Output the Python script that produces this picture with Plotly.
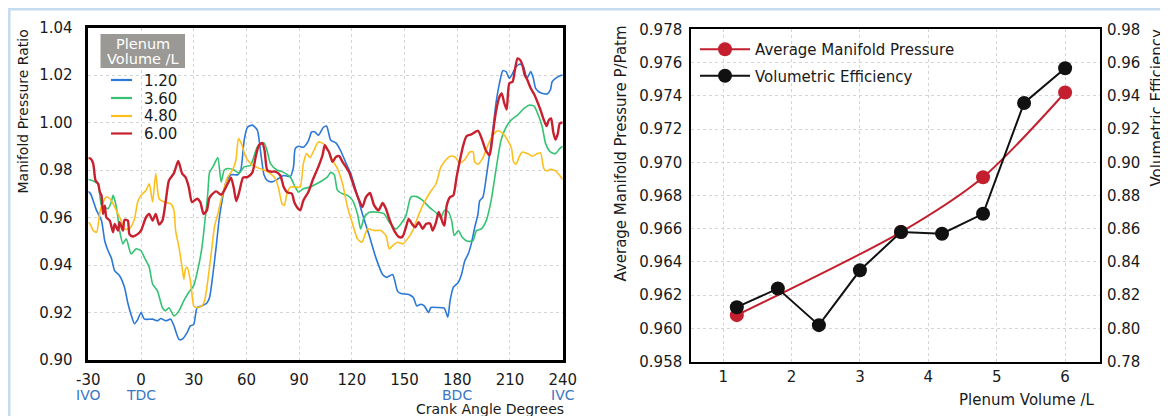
import plotly.graph_objects as go

# The page places the figure 8 px in from the top-left corner of the window,
# so the figure is sized to fill exactly the rest of the 1168x416 window.
OFF = 8
W, H = 1168 - OFF, 416 - OFF

# ---------------- Left chart data: manifold pressure ratio vs crank angle ----------------
series_names = ["1.20", "3.60", "4.80", "6.00"]
series_colors = ["#2b78d6", "#35c273", "#fcbf1e", "#c8202f"]
series_widths = [1.6, 1.6, 1.6, 2.4]

blue_x = [-30, -28.7, -25.3, -22.5, -20.6, -18.75, -16.9, -15, -12.2, -9.4, -7.5, -5.6, -3.75, -1.9, 0, 1.9, 6.6, 9.4, 11.25, 14.1, 16.9, 18.75, 21.6, 23.4, 26.25, 28.1, 30, 31.9, 34.7, 37.5, 39, 40.9, 42.75, 44.6, 46.5, 48.4, 51.2, 55, 56.8, 58.7, 60.6, 63.4, 66.2, 68, 70, 71.8, 74.6, 77.4, 81.2, 85, 86.8, 87.75, 89.6, 92.4, 95.25, 97.1, 99, 100.9, 103.7, 105.6, 108, 110.9, 113.7, 116.6, 119.4, 122.3, 126, 129.9, 133.7, 137.5, 139.8, 143.2, 146, 147.9, 152.7, 155, 156.9, 159.3, 161.2, 163.7, 165, 168.8, 172.6, 174.6, 175.9, 177.75, 180.6, 182.4, 184.3, 186.2, 188, 190, 191.8, 192.75, 194.6, 196.5, 198.4, 200.25, 202, 204, 205.9, 207.75, 209.6, 211.5, 213.4, 215.8, 217.7, 219.6, 221, 221.8, 223.3, 224.6, 227.4, 231.2, 233, 234, 235.9, 238.3, 240]
blue_y = [0.971, 0.970, 0.963, 0.9587, 0.950, 0.946, 0.943, 0.9376, 0.9355, 0.9306, 0.924, 0.919, 0.9153, 0.917, 0.920, 0.9172, 0.9172, 0.9165, 0.9175, 0.9165, 0.9172, 0.9144, 0.9087, 0.9087, 0.9115, 0.9144, 0.915, 0.922, 0.9228, 0.924, 0.9263, 0.936, 0.9475, 0.960, 0.9686, 0.975, 0.978, 0.978, 0.980, 0.9925, 0.998, 0.9989, 0.9968, 0.988, 0.978, 0.9756, 0.975, 0.976, 0.9777, 0.9773, 0.9813, 0.989, 0.990, 0.9896, 0.9923, 0.996, 0.996, 0.9946, 0.9979, 0.9985, 0.9925, 0.9914, 0.988, 0.983, 0.9785, 0.9714, 0.9615, 0.9524, 0.943, 0.936, 0.9348, 0.936, 0.929, 0.928, 0.9275, 0.9263, 0.9228, 0.9235, 0.9228, 0.920, 0.9221, 0.9221, 0.9218, 0.918, 0.925, 0.9306, 0.9327, 0.936, 0.9418, 0.9446, 0.949, 0.956, 0.9615, 0.967, 0.9686, 0.977, 0.9869, 0.9968, 1.008, 1.0165, 1.0218, 1.0214, 1.0186, 1.0207, 1.0235, 1.0246, 1.0235, 1.0186, 1.0204, 1.0214, 1.0186, 1.0144, 1.0125, 1.012, 1.0137, 1.0172, 1.0186, 1.0196, 1.020]

green_x = [-30, -29, -26.25, -24.4, -22.5, -20.6, -18.75, -16.9, -15.9, -14, -12.2, -10.3, -8.4, -5.6, -2.8, 0, 1.9, 4.7, 6.6, 9.4, 12.2, 14, 15.9, 18.75, 21.6, 24.4, 27.2, 30, 32.8, 34.7, 36.6, 38, 39, 40.9, 43.7, 45.6, 47.4, 49.3, 53, 55.9, 58.7, 62.4, 66.2, 70, 71.8, 73.7, 77.4, 81.2, 85, 87.75, 89.6, 92.4, 96.2, 100, 103.3, 106, 108, 110, 111.8, 114.7, 117.5, 120.4, 123.2, 125, 127, 129.9, 134.6, 138.4, 141.3, 145, 147.9, 150.8, 153.6, 156.5, 160.3, 164, 167.9, 170.7, 172.6, 175, 176.8, 178.3, 180.6, 182.8, 185.8, 189, 190.9, 193.7, 196.5, 199.3, 202, 204.9, 207.75, 210.6, 214.3, 218, 220.9, 223.7, 226.5, 228.4, 230.3, 233, 235.9, 238.3, 240]
green_y = [0.976, 0.9759, 0.975, 0.9742, 0.965, 0.9644, 0.9637, 0.9665, 0.9693, 0.9644, 0.9545, 0.9489, 0.951, 0.9446, 0.9468, 0.946, 0.9432, 0.939, 0.932, 0.929, 0.922, 0.9207, 0.922, 0.9186, 0.9207, 0.925, 0.9285, 0.9313, 0.9397, 0.9475, 0.960, 0.970, 0.979, 0.9813, 0.9852, 0.975, 0.980, 0.9806, 0.980, 0.9787, 0.9813, 0.982, 0.9897, 0.9914, 0.988, 0.9827, 0.980, 0.979, 0.977, 0.9728, 0.9707, 0.9721, 0.9728, 0.9742, 0.9756, 0.977, 0.979, 0.978, 0.9714, 0.970, 0.9693, 0.9672, 0.9615, 0.9552, 0.960, 0.9622, 0.9622, 0.9615, 0.958, 0.9552, 0.9573, 0.9608, 0.9686, 0.9689, 0.9672, 0.9644, 0.962, 0.960, 0.963, 0.9623, 0.9587, 0.9524, 0.9545, 0.9517, 0.950, 0.9503, 0.9545, 0.9552, 0.9587, 0.9672, 0.980, 0.9925, 0.998, 1.001, 1.0031, 1.0059, 1.0073, 1.0069, 1.0024, 0.998, 0.9911, 0.9876, 0.9869, 0.989, 0.990]

yellow_x = [-30, -29, -27.2, -25.3, -23.4, -21.6, -19.7, -17.8, -15.9, -13.1, -11.25, -9.4, -6.6, -3.75, -1.9, 0, 2.8, 4.7, 6.6, 8.4, 10.3, 13.1, 16.9, 18.75, 19.7, 21.6, 23.4, 24.4, 25.3, 26.25, 28.1, 29, 30, 31.9, 34.7, 36.2, 38, 39.9, 41.8, 43.7, 46.5, 49.3, 52.1, 54, 55.5, 57.2, 59.6, 62.4, 66.2, 70, 73.7, 76.5, 78.4, 80.25, 81.6, 83, 85, 88.7, 90.6, 92.4, 94.3, 96.2, 98, 100.9, 103.7, 106, 109, 111.8, 114.7, 117.5, 120.4, 123.2, 125.7, 127.6, 128.9, 132.7, 136.5, 139.4, 141.3, 143.2, 146, 148.9, 151.7, 154.6, 157.4, 160.3, 164, 167.9, 170.7, 173.4, 175.9, 178.7, 181.5, 184.3, 187.1, 189, 189.9, 191.8, 194.6, 197.4, 200.25, 203, 205.9, 208.7, 210.9, 212, 213.4, 215.25, 217, 220, 222.75, 225.6, 227.4, 229.3, 231.2, 233, 235.9, 238.3, 240]
yellow_y = [0.958, 0.9573, 0.9545, 0.9538, 0.9623, 0.9665, 0.9686, 0.968, 0.9658, 0.9615, 0.9587, 0.9552, 0.9552, 0.9594, 0.9665, 0.9693, 0.9714, 0.9742, 0.9665, 0.9785, 0.9679, 0.9665, 0.9658, 0.963, 0.9545, 0.9475, 0.939, 0.934, 0.9383, 0.939, 0.9334, 0.9277, 0.9228, 0.922, 0.9228, 0.925, 0.9334, 0.9446, 0.956, 0.9615, 0.970, 0.977, 0.980, 0.9841, 0.9932, 0.991, 0.9855, 0.9827, 0.981, 0.980, 0.9785, 0.9763, 0.972, 0.9658, 0.9651, 0.970, 0.9728, 0.9728, 0.9728, 0.9827, 0.9869, 0.9852, 0.9876, 0.9918, 0.9911, 0.989, 0.9841, 0.9806, 0.9742, 0.9644, 0.9573, 0.951, 0.9496, 0.953, 0.9552, 0.9545, 0.9545, 0.9524, 0.9468, 0.9482, 0.9496, 0.9489, 0.951, 0.9545, 0.960, 0.965, 0.970, 0.9742, 0.9813, 0.9841, 0.9858, 0.9855, 0.983, 0.9844, 0.9876, 0.9876, 0.9834, 0.9824, 0.9852, 0.9904, 0.9946, 0.9965, 0.9954, 0.9925, 0.989, 0.9834, 0.9824, 0.9855, 0.9876, 0.9869, 0.9858, 0.9869, 0.9872, 0.9806, 0.9796, 0.9803, 0.9796, 0.9777, 0.976]

red_x = [-30, -28.7, -27.2, -25.9, -24.4, -23.4, -22.5, -21.6, -20.6, -19.7, -17.8, -15.9, -15, -13.1, -12.2, -10.3, -9.4, -7.5, -6.6, -4.7, -1.9, 0, 2.8, 4.7, 6.6, 8.4, 10.3, 12.2, 14, 15.9, 18.75, 21.2, 23.4, 25.3, 27.2, 29, 31.9, 33.75, 35.6, 37.5, 38.8, 39.9, 42.75, 45.6, 47.4, 49.3, 51.2, 52.7, 54.2, 55.9, 58.1, 60.6, 63.4, 65.25, 67.1, 69, 70.3, 71.8, 73.7, 76.5, 79.3, 81.2, 83, 85.9, 87.2, 88.7, 90.6, 92.4, 95.25, 98, 100.9, 103.3, 104.6, 106, 107, 109, 110.9, 112.8, 114.7, 116.6, 118.5, 121.3, 124.2, 126, 128, 130.3, 132.7, 135.2, 137.5, 139.4, 141.3, 144.1, 147, 148.9, 150.8, 152.3, 154.2, 156.1, 158, 160.3, 162.2, 164.5, 166, 167.9, 169.4, 170.7, 172, 172.7, 174, 175.9, 177.75, 179.6, 181.5, 183.4, 185.25, 188, 191.8, 194.6, 196.2, 198.4, 200.25, 202, 204, 205.3, 206.8, 208.1, 209.6, 211.5, 212.8, 214.3, 215.8, 217.1, 218.4, 219.9, 221.8, 223.7, 225.6, 227.4, 229.3, 230.8, 232.1, 233.4, 234.6, 235.9, 237.2, 238.3, 240]
red_y = [0.985, 0.9848, 0.9827, 0.9756, 0.9742, 0.9707, 0.9693, 0.9615, 0.965, 0.960, 0.9587, 0.9538, 0.9573, 0.9545, 0.958, 0.9545, 0.959, 0.9587, 0.953, 0.952, 0.953, 0.9545, 0.960, 0.9615, 0.9587, 0.9615, 0.957, 0.9587, 0.9665, 0.9756, 0.9787, 0.9838, 0.9785, 0.977, 0.9728, 0.9665, 0.9679, 0.9665, 0.9615, 0.963, 0.968, 0.9693, 0.971, 0.9696, 0.9714, 0.9742, 0.9768, 0.9728, 0.9669, 0.9707, 0.9768, 0.977, 0.979, 0.9855, 0.9904, 0.9914, 0.9883, 0.980, 0.9793, 0.9793, 0.9777, 0.9728, 0.9707, 0.970, 0.9665, 0.9644, 0.963, 0.9672, 0.9707, 0.9763, 0.9813, 0.9862, 0.9904, 0.9887, 0.9876, 0.9834, 0.9855, 0.9858, 0.9834, 0.9813, 0.979, 0.9728, 0.9672, 0.9644, 0.9686, 0.9703, 0.9651, 0.963, 0.9661, 0.9637, 0.9594, 0.9545, 0.9517, 0.952, 0.9559, 0.9594, 0.9573, 0.9559, 0.958, 0.9552, 0.9573, 0.9575, 0.9545, 0.958, 0.9623, 0.960, 0.9573, 0.9566, 0.9651, 0.9686, 0.9693, 0.977, 0.9841, 0.9904, 0.9942, 0.995, 0.9965, 0.9918, 0.9883, 0.9862, 0.9954, 1.0045, 1.0108, 1.0122, 1.008, 1.0055, 1.0165, 1.0172, 1.0221, 1.027, 1.0263, 1.0242, 1.020, 1.0179, 1.0144, 1.012, 1.0087, 1.0052, 1.001, 0.9985, 1.001, 1.0017, 0.996, 0.9928, 0.9952, 0.9996, 1.000]

crank_ticks = [-30, 0, 30, 60, 90, 120, 150, 180, 210, 240]
crank_tick_labels = ["-30", "0", "30", "60", "90", "120", "150", "180", "210", "240"]
event_angles = [-30, 0, 180, 240]
event_labels = ["IVO", "TDC", "BDC", "IVC"]

# ---------------- Right chart data: vs plenum volume ----------------
amp_x = [1.2, 3.6, 4.8, 6.0]
amp_y = [0.9608, 0.9658, 0.9691, 0.9742]
ve_x = [1.2, 1.8, 2.4, 3.0, 3.6, 4.2, 4.8, 5.4, 6.0]
ve_y = [0.8128, 0.824, 0.802, 0.835, 0.858, 0.857, 0.869, 0.9357, 0.9566]

FONT = "DejaVu Sans, Verdana, sans-serif"
TXT = "#1a1a1a"
GRID = "#d4d4d4"
EVENT_BLUE = "#3a76c4"


def fx(p):
    """window pixel x -> paper fraction"""
    return (p - OFF) / W


def fy(p):
    """window pixel y -> paper fraction"""
    return 1 - (p - OFF) / H


fig = go.Figure()

left_series = [(blue_x, blue_y), (green_x, green_y), (yellow_x, yellow_y), (red_x, red_y)]
for (sx, sy), name, col, lw in zip(left_series, series_names, series_colors, series_widths):
    fig.add_trace(go.Scatter(
        x=sx, y=sy, name=name, mode="lines",
        line=dict(color=col, width=lw, shape="spline", smoothing=0.6),
        xaxis="x", yaxis="y", showlegend=False,
    ))

fig.add_trace(go.Scatter(
    x=amp_x, y=amp_y, name="Average Manifold Pressure", mode="lines+markers",
    line=dict(color="#c41f2e", width=2, shape="spline", smoothing=0.8),
    marker=dict(color="#c41f2e", size=14),
    xaxis="x2", yaxis="y2", legend="legend2", legendgroup="a",
))
fig.add_trace(go.Scatter(
    x=ve_x, y=ve_y, name="Volumetric Efficiency", mode="lines+markers",
    line=dict(color="#111111", width=2),
    marker=dict(color="#111111", size=14),
    xaxis="x2", yaxis="y3", legend="legend2", legendgroup="b",
))

axis_common = dict(
    showgrid=True, gridcolor=GRID, griddash="dot", gridwidth=1,
    showline=True, linecolor="#000000", mirror=True, ticks="",
    zeroline=False, automargin=False, tickfont=dict(family=FONT, size=15, color=TXT),
)

fig.update_layout(
    width=W, height=H, autosize=False,
    margin=dict(l=0, r=0, t=0, b=0, pad=0, autoexpand=False),
    paper_bgcolor="white", plot_bgcolor="white",
    font=dict(family=FONT, size=15, color=TXT),
    xaxis=dict(domain=[fx(88.3), fx(562.7)], range=[-30, 240],
               tickvals=crank_ticks, ticktext=crank_tick_labels,
               linewidth=2.5, ticklabelstandoff=4, anchor="y", **axis_common),
    yaxis=dict(domain=[fy(360), fy(27.5)], range=[0.90, 1.04], dtick=0.02, tick0=0.9,
               tickformat=".2f", linewidth=2.5, ticklabelstandoff=10, anchor="x", **axis_common),
    xaxis2=dict(domain=[fx(691), fx(1100)], range=[0.53, 6.51], dtick=1, tick0=1,
                linewidth=1.5, ticklabelstandoff=1, anchor="y2", **axis_common),
    yaxis2=dict(domain=[fy(361.7), fy(29.3)], range=[0.958, 0.978], dtick=0.002, tick0=0.958,
                tickformat=".3f", linewidth=1.5, ticklabelstandoff=4, anchor="x2", **axis_common),
    yaxis3=dict(domain=[fy(361.7), fy(29.3)], range=[0.78, 0.98], dtick=0.02, tick0=0.78,
                tickformat=".2f", overlaying="y2", side="right", anchor="x2",
                showgrid=False, showline=False, zeroline=False, ticks="", automargin=False,
                ticklabelstandoff=6, tickfont=dict(family=FONT, size=15, color=TXT)),
    legend2=dict(x=fx(695), y=fy(33), xanchor="left", yanchor="top",
                 bgcolor="rgba(0,0,0,0)", borderwidth=0, itemwidth=50,
                 font=dict(family=FONT, size=15, color=TXT), tracegroupgap=4),
    showlegend=True,
)

# ---- Left chart legend (title box + entries), built from the series lists ----
fig.add_shape(type="rect", xref="paper", yref="paper",
              x0=fx(100.5), x1=fx(185), y0=fy(68), y1=fy(34),
              fillcolor="#9a9995", line=dict(width=0), layer="above")
fig.add_annotation(text="Plenum", xref="paper", yref="paper", x=fx(143), y=fy(43.5),
                   xanchor="center", yanchor="middle", showarrow=False,
                   font=dict(family=FONT, size=14.5, color="white"))
fig.add_annotation(text="Volume /L", xref="paper", yref="paper", x=fx(143), y=fy(58.5),
                   xanchor="center", yanchor="middle", showarrow=False,
                   font=dict(family=FONT, size=14.5, color="white"))
legend_rows = [80, 98, 116, 133.5]
for row, name, col, lw in zip(legend_rows, series_names, series_colors, series_widths):
    fig.add_shape(type="line", xref="paper", yref="paper",
                  x0=fx(111), x1=fx(132), y0=fy(row), y1=fy(row),
                  line=dict(color=col, width=2.2), layer="above")
    fig.add_annotation(text=name, xref="paper", yref="paper", x=fx(142), y=fy(row + 0.5),
                       xanchor="left", yanchor="middle", showarrow=False,
                       font=dict(family=FONT, size=15, color=TXT))

# ---- Axis titles and event labels ----
fig.add_annotation(text="Manifold Pressure Ratio", xref="paper", yref="paper",
                   x=fx(22), y=fy(111.5), xanchor="center", yanchor="middle",
                   textangle=-90, showarrow=False,
                   font=dict(family=FONT, size=14, color=TXT))
fig.add_annotation(text="Crank Angle Degrees", xref="paper", yref="paper",
                   x=fx(566), y=fy(408.5), xanchor="right", yanchor="middle", showarrow=False,
                   font=dict(family=FONT, size=14, color=TXT))
for ang, lab in zip(event_angles, event_labels):
    fig.add_annotation(text=lab, xref="x", yref="paper", x=ang, y=fy(394.5),
                       xanchor="center", yanchor="middle",
                       showarrow=False, font=dict(family=FONT, size=14, color=EVENT_BLUE))

fig.add_annotation(text="Average Manifold Pressure P/Patm", xref="paper", yref="paper",
                   x=fx(620), y=fy(153.5), xanchor="center", yanchor="middle",
                   textangle=-90, showarrow=False,
                   font=dict(family=FONT, size=15, color=TXT))
fig.add_annotation(text="Volumetric Efficiency", xref="paper", yref="paper",
                   x=fx(1156.5), y=fy(108), xanchor="center", yanchor="middle",
                   textangle=-90, showarrow=False,
                   font=dict(family=FONT, size=15, color=TXT))
fig.add_annotation(text="Plenum Volume /L", xref="paper", yref="paper",
                   x=fx(1026), y=fy(400), xanchor="center", yanchor="middle", showarrow=False,
                   font=dict(family=FONT, size=15, color=TXT))

# Light blue panel frame
fig.add_shape(type="path", xref="paper", yref="paper",
              path=f"M {fx(9.3)} 0 L {fx(9.3)} {fy(9.3)} L 1 {fy(9.3)}",
              line=dict(color="#c5dbf0", width=2.5), layer="above")

fig.write_html("out.html")
